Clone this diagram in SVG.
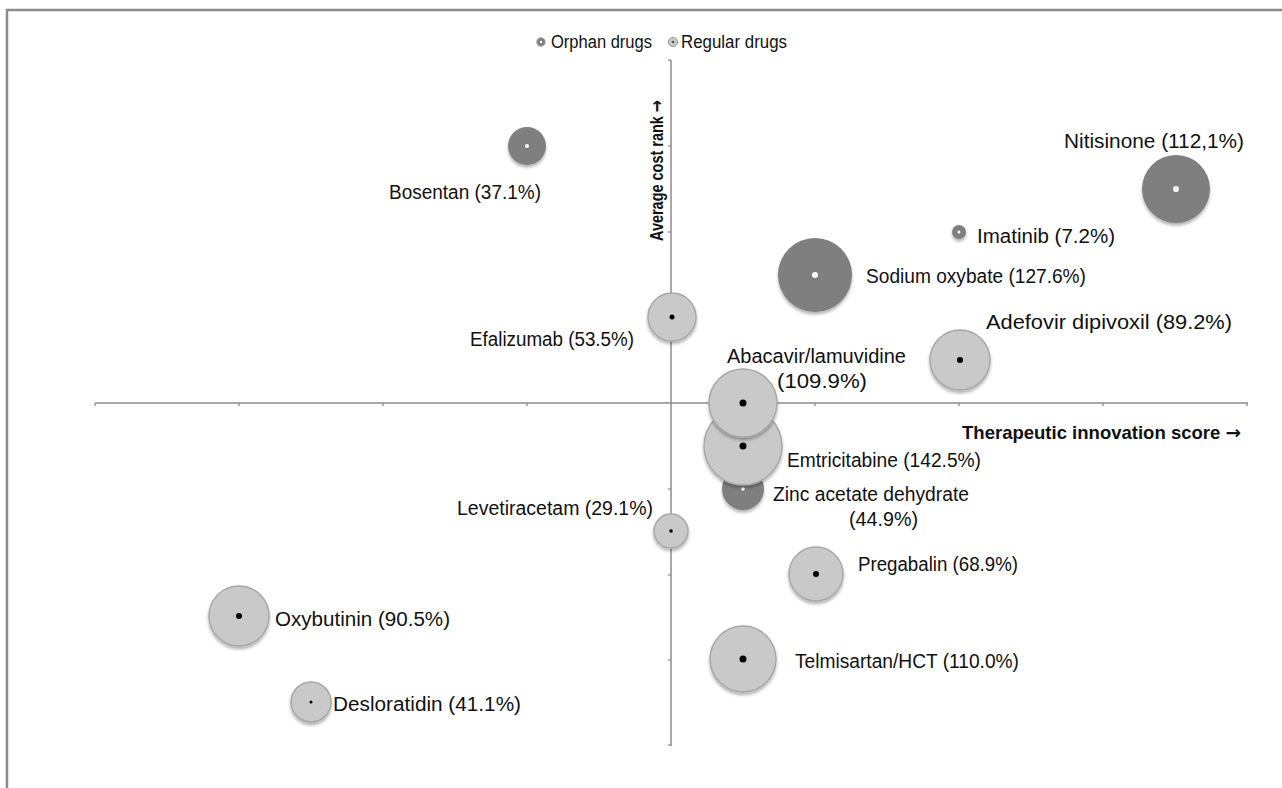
<svg xmlns="http://www.w3.org/2000/svg" width="1282" height="788" viewBox="0 0 1282 788">
<defs>
<filter id="sh" x="-30%" y="-30%" width="160%" height="170%">
<feDropShadow dx="0" dy="2.5" stdDeviation="1.8" flood-color="#000" flood-opacity="0.3"/>
</filter>
<style>
.frame{stroke:#8a8a8a;stroke-width:2.5;fill:none}
.axis{stroke:#8c8c8c;stroke-width:1.5;fill:none}
.tick{stroke:#8c8c8c;stroke-width:1.2}
.orph{fill:#7f7f7f;filter:url(#sh)}
.reg{fill:#c9c9c9;stroke:#a8a8a8;stroke-width:1.5;filter:url(#sh)}
.od{fill:#ffffff}
.rd{fill:#000000}
text{font-family:"Liberation Sans",Arial,sans-serif;font-size:20px;fill:#111}
.lg{font-size:17.5px}
.ax{font-weight:bold;font-size:18.5px}
.arr{font-family:"DejaVu Sans",sans-serif;font-weight:bold}
</style>
</defs>
<rect x="0" y="0" width="1282" height="788" fill="#ffffff"/>
<path class="frame" d="M7,788 V10 H1282"/>
<g id="axes">
<line class="axis" x1="95" y1="403" x2="1248" y2="403"/>
<line class="axis" x1="671" y1="60" x2="671" y2="746"/>
<g class="tick">
<line x1="95" y1="403" x2="95" y2="406"/><line x1="239" y1="403" x2="239" y2="406"/>
<line x1="383" y1="403" x2="383" y2="406"/><line x1="527" y1="403" x2="527" y2="406"/>
<line x1="815" y1="403" x2="815" y2="406"/><line x1="959" y1="403" x2="959" y2="406"/>
<line x1="1103" y1="403" x2="1103" y2="406"/><line x1="1247" y1="403" x2="1247" y2="406"/>
<line x1="668" y1="60" x2="671" y2="60"/><line x1="668" y1="146" x2="671" y2="146"/>
<line x1="668" y1="232" x2="671" y2="232"/><line x1="668" y1="317" x2="671" y2="317"/>
<line x1="668" y1="489" x2="671" y2="489"/><line x1="668" y1="575" x2="671" y2="575"/>
<line x1="668" y1="660" x2="671" y2="660"/><line x1="668" y1="745" x2="671" y2="745"/>
</g>
<text class="ax" x="962" y="439" textLength="279" lengthAdjust="spacingAndGlyphs">Therapeutic innovation score <tspan class="arr">→</tspan></text>
<text class="ax" transform="translate(663,241) rotate(-90)" x="0" y="0" textLength="141" lengthAdjust="spacingAndGlyphs">Average cost rank <tspan class="arr">→</tspan></text>
</g>
<g id="legend">
<circle cx="541" cy="42" r="4.2" fill="#7f7f7f" stroke="#a0a0a0" stroke-width="1"/>
<circle cx="541" cy="42" r="1.2" fill="#fff"/>
<text class="lg" x="551" y="48" textLength="101" lengthAdjust="spacingAndGlyphs">Orphan drugs</text>
<circle cx="673" cy="42" r="4.6" fill="#c9c9c9" stroke="#999" stroke-width="1"/>
<circle cx="673" cy="42" r="1.3" fill="#555"/>
<text class="lg" x="681" y="48" textLength="106" lengthAdjust="spacingAndGlyphs">Regular drugs</text>
</g>
<g id="bosentan"><circle class="orph" cx="527" cy="146" r="19"/><circle class="od" cx="527" cy="146" r="2"/><text x="389" y="199" textLength="152" lengthAdjust="spacingAndGlyphs">Bosentan (37.1%)</text></g>
<g id="nitisinone"><circle class="orph" cx="1176" cy="189" r="34"/><circle class="od" cx="1176" cy="189" r="3"/><text x="1064" y="148" textLength="180" lengthAdjust="spacingAndGlyphs">Nitisinone (112,1%)</text></g>
<g id="imatinib"><circle class="orph" cx="959" cy="232" r="7"/><circle class="od" cx="959" cy="232" r="1.5"/><text x="977" y="243" textLength="138" lengthAdjust="spacingAndGlyphs">Imatinib (7.2%)</text></g>
<g id="sodium-oxybate"><circle class="orph" cx="815" cy="275" r="37"/><circle class="od" cx="815" cy="275" r="3"/><text x="866" y="283" textLength="220" lengthAdjust="spacingAndGlyphs">Sodium oxybate (127.6%)</text></g>
<g id="zinc-acetate"><circle class="orph" cx="743" cy="489" r="21"/><circle class="od" cx="743" cy="489" r="1.8"/><text x="773" y="501" textLength="196" lengthAdjust="spacingAndGlyphs">Zinc acetate dehydrate</text><text x="849" y="526" textLength="69" lengthAdjust="spacingAndGlyphs">(44.9%)</text></g>
<g id="efalizumab"><circle class="reg" cx="672" cy="317" r="24"/><circle class="rd" cx="672" cy="317" r="2.5"/><text x="470" y="346" textLength="164" lengthAdjust="spacingAndGlyphs">Efalizumab (53.5%)</text></g>
<g id="adefovir"><circle class="reg" cx="960" cy="360" r="30"/><circle class="rd" cx="960" cy="360" r="3"/><text x="986" y="329" textLength="246" lengthAdjust="spacingAndGlyphs">Adefovir dipivoxil (89.2%)</text></g>
<g id="emtricitabine"><circle class="reg" cx="743" cy="446" r="39"/><circle class="rd" cx="743" cy="446" r="3.5"/><text x="787" y="467" textLength="194" lengthAdjust="spacingAndGlyphs">Emtricitabine (142.5%)</text></g>
<g id="abacavir"><circle class="reg" cx="743" cy="403" r="34"/><circle class="rd" cx="743" cy="403" r="3.5"/><text x="727" y="363" textLength="179" lengthAdjust="spacingAndGlyphs">Abacavir/lamuvidine</text><text x="777" y="388" textLength="90" lengthAdjust="spacingAndGlyphs">(109.9%)</text></g>
<g id="levetiracetam"><circle class="reg" cx="671" cy="531" r="17"/><circle class="rd" cx="671" cy="531" r="1.8"/><text x="457" y="515" textLength="196" lengthAdjust="spacingAndGlyphs">Levetiracetam (29.1%)</text></g>
<g id="pregabalin"><circle class="reg" cx="816" cy="574" r="27"/><circle class="rd" cx="816" cy="574" r="3"/><text x="858" y="571" textLength="160" lengthAdjust="spacingAndGlyphs">Pregabalin (68.9%)</text></g>
<g id="oxybutinin"><circle class="reg" cx="239" cy="616" r="30"/><circle class="rd" cx="239" cy="616" r="3"/><text x="275" y="626" textLength="175" lengthAdjust="spacingAndGlyphs">Oxybutinin (90.5%)</text></g>
<g id="telmisartan"><circle class="reg" cx="743" cy="659" r="33"/><circle class="rd" cx="743" cy="659" r="3.5"/><text x="795" y="668" textLength="224" lengthAdjust="spacingAndGlyphs">Telmisartan/HCT (110.0%)</text></g>
<g id="desloratidin"><circle class="reg" cx="311" cy="702" r="20"/><circle class="rd" cx="311" cy="702" r="1.5"/><text x="333" y="711" textLength="188" lengthAdjust="spacingAndGlyphs">Desloratidin (41.1%)</text></g>
</svg>
